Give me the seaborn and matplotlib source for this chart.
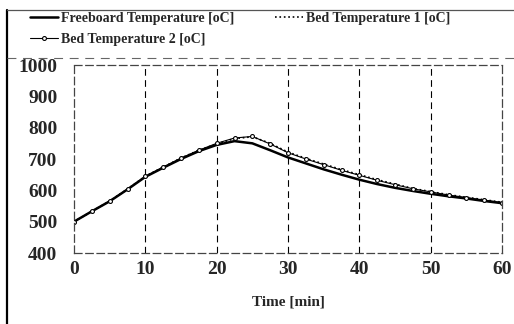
import matplotlib
matplotlib.use('Agg')
import matplotlib.pyplot as plt
import seaborn as sns
import pandas as pd
from matplotlib.lines import Line2D

# values
time_min = [0, 2.5, 5, 7.5, 10, 12.5, 15, 17.5, 20, 22.5, 25, 27.5, 30,
            32.5, 35, 37.5, 40, 42.5, 45, 47.5, 50, 52.5, 55, 57.5, 60]
freeboard = [500, 533, 565, 603, 643, 672, 700, 725, 745, 757, 750, 728, 705,
             686, 667, 650, 634, 620, 608, 598, 589, 581, 574, 566, 559]
bed1 = [500, 533, 566, 604, 645, 674, 703, 728, 748, 765, 771, 750, 722,
        702, 684, 666, 650, 634, 620, 606, 596, 586, 578, 570, 562]
bed2 = [500, 533, 566, 604, 645, 674, 703, 728, 750, 767, 772, 748, 720,
        700, 682, 664, 648, 632, 618, 605, 595, 585, 577, 569, 561]
labels = ['Freeboard Temperature [oC]', 'Bed Temperature 1 [oC]', 'Bed Temperature 2 [oC]']
xticks = [0, 10, 20, 30, 40, 50, 60]
yticks = [400, 500, 600, 700, 800, 900, 1000]

df = pd.DataFrame({'t': time_min, 'free': freeboard, 'b1': bed1, 'b2': bed2})

sns.set_style('white')
plt.rcParams['font.family'] = ['Liberation Serif', 'DejaVu Serif']
plt.rcParams['font.weight'] = 'bold'

fig = plt.figure(figsize=(5.14, 3.24), dpi=100)
ax = fig.add_axes([74/514, 1 - 253/324, 428/514, 188/324])

sns.lineplot(data=df, x='t', y='free', ax=ax, color='black', lw=1.8, label=labels[0])
sns.lineplot(data=df, x='t', y='b1', ax=ax, color='black', lw=1.2, ls=':', label=labels[1])
sns.lineplot(data=df, x='t', y='b2', ax=ax, color='black', lw=0.8, marker='o',
             markersize=2.8, markerfacecolor='white', markeredgecolor='black',
             markeredgewidth=0.8, label=labels[2])
ax.get_legend().remove()

ax.set_xlim(0, 60)
ax.set_ylim(400, 1000)
ax.set_xticks(xticks)
ax.set_yticks(yticks)
ax.tick_params(axis='x', length=0, pad=6, labelsize=14)
ax.tick_params(axis='y', length=0, pad=12, labelsize=14)
for lab in ax.get_xticklabels() + ax.get_yticklabels():
    lab.set_fontweight('bold')
ax.set_xlabel('Time [min]', fontsize=11, fontweight='bold', labelpad=12)
ax.set_ylabel('')

# dashed vertical grid only
for x in xticks[1:-1]:
    ax.axvline(x, color='black', lw=0.8, ls=(0, (6, 4)), zorder=0)
for s in ax.spines.values():
    s.set_linestyle((0, (6, 3)))
    s.set_color('#444444')
    s.set_linewidth(0.9)

# legend on top, rows: Freeboard / Bed 1, then Bed 2
h = ax.get_lines()
fig.legend([h[0], h[2], h[1]], [labels[0], labels[2], labels[1]],
           loc='upper left', bbox_to_anchor=(30/514, 1 - 12/324),
           ncol=2, frameon=False,
           prop={'family': 'Liberation Serif', 'weight': 'bold', 'size': 10},
           handlelength=2.0, handletextpad=0.2, borderaxespad=0, labelspacing=0.6,
           columnspacing=3.0, borderpad=0)

# frame of the scanned figure
fig.add_artist(Line2D([7/514, 7/514], [0, 1 - 10/324], transform=fig.transFigure,
                      color='black', lw=1.6))
fig.add_artist(Line2D([7/514, 1], [1 - 10/324, 1 - 10/324], transform=fig.transFigure,
                      color='#555555', lw=0.9))
fig.add_artist(Line2D([7/514, 1], [1 - 58/324, 1 - 58/324], transform=fig.transFigure,
                      color='#666666', lw=0.8, ls=(0, (8, 6))))

fig.savefig('out.png', dpi=100)
